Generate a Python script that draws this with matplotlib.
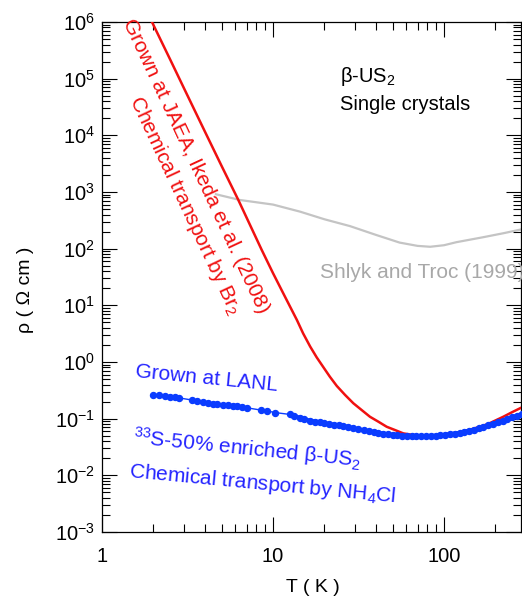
import numpy as np
import matplotlib
matplotlib.use('Agg')
import matplotlib.pyplot as plt
from matplotlib.ticker import LogLocator, NullFormatter, LogFormatterSciNotation, FixedLocator

plt.rcParams['font.family'] = ['Liberation Sans', 'DejaVu Sans']
plt.rcParams['mathtext.fontset'] = 'custom'
plt.rcParams['mathtext.rm'] = 'Liberation Sans'
plt.rcParams['mathtext.it'] = 'Liberation Sans:italic'
plt.rcParams['mathtext.bf'] = 'Liberation Sans:bold'

# ---------------- data ----------------
T_red = [1.96, 2.5, 3.0, 4.0, 5.0, 6.27, 8.59, 10.0, 11.75, 13.8, 15.0, 16.5,
         18.0, 19.7, 21.5, 23.6, 26.4, 29.5, 33.0, 36.9, 41.3, 46.2, 51.7, 57.8,
         70.0, 85.0, 100.0, 125.0, 150.0, 180.0, 222.0, 250.0, 285.0]
rho_red = [1.0e6, 2.2e5, 7.0e4, 1.16e4, 2.9e3, 723, 95, 37, 14.2, 5.5, 3.2, 1.87,
           1.21, 0.81, 0.55, 0.378, 0.262, 0.187, 0.142, 0.108, 0.0885, 0.072,
           0.063, 0.055, 0.050, 0.050, 0.0525, 0.058, 0.067, 0.080, 0.108, 0.130,
           0.158]

T_gray = [4.64, 6.4, 10.0, 14.4, 20.0, 28.2, 40.0, 55.0, 70.0, 83.0, 100.0,
          118.0, 169.0, 222.0, 286.0]
rho_gray = [912, 723, 600, 450, 330, 250, 175, 128, 112, 108, 115, 130, 159,
            187, 220]

T_blue = [2.0, 2.16, 2.34, 2.50, 2.67, 2.83, 3.34, 3.61, 3.91, 4.19, 4.44, 4.72,
          5.08, 5.48, 5.86, 6.18, 6.56, 7.08, 8.47, 9.19, 10.3, 12.5,
          13.3, 14.3, 15.2, 16.5, 17.6, 18.8, 20.0, 21.3, 22.7, 24.2, 25.8, 27.5,
          29.3, 31.2, 34.0, 36.3, 38.7, 41.2, 44.0, 47.0, 50.0, 53.3, 56.9, 60.7,
          64.7, 69.0, 73.6, 78.5, 83.7, 89.3, 95.2, 101.5, 108.3, 115.5, 123.2,
          131.4, 140.1, 149.4, 159.4, 170.0, 181.3, 193.4, 206.3, 220.0, 234.7,
          250.3, 267.0, 284.8]
rho_blue = [0.265, 0.258, 0.251, 0.245, 0.241, 0.232, 0.214, 0.205, 0.197, 0.189,
            0.184, 0.179, 0.175, 0.172, 0.168, 0.165, 0.163, 0.155, 0.142, 0.137,
            0.128, 0.119,
            0.111, 0.104, 0.0975, 0.092, 0.089, 0.086, 0.083, 0.080, 0.078, 0.076,
            0.074, 0.071, 0.068, 0.065, 0.062, 0.060, 0.058, 0.056, 0.0545, 0.053,
            0.0518, 0.0508, 0.0500, 0.0495, 0.0492, 0.0490, 0.0490, 0.0492, 0.0495,
            0.0500, 0.0507, 0.0517, 0.0530, 0.0545, 0.0563, 0.0585, 0.0610, 0.0640,
            0.0675, 0.0715, 0.0760, 0.0810, 0.0860, 0.0920, 0.0985, 0.1055, 0.1130,
            0.1210]

x_ticks = [1, 10, 100]
x_tick_labels = ['1', '10', '100']
y_ticks = [1e-3, 1e-2, 1e-1, 1e0, 1e1, 1e2, 1e3, 1e4, 1e5, 1e6]

# ---------------- figure ----------------
W, H = 522, 598
fig = plt.figure(figsize=(W / 100, H / 100), dpi=100)
L, R, TOP, BOT = 102, 521, 22, 532
ax = fig.add_axes([L / W, 1 - BOT / H, (R - L) / W, (BOT - TOP) / H])
ax.set_xscale('log')
ax.set_yscale('log')
ax.set_xlim(1, 282)
ax.set_ylim(1e-3, 1e6)

RED = '#f01010'
BLUE = '#0a3cff'
BLUE_T = '#2323ff'
GRAY = '#c4c4c4'

ax.plot(T_gray, rho_gray, color=GRAY, lw=1.6, zorder=2)
ax.plot(T_red, rho_red, color=RED, lw=1.8, zorder=3)

T_b = np.array(T_blue)
rho_b = np.array(rho_blue)
dense = T_b >= 13.0
ax.plot(T_b[dense], rho_b[dense], color=BLUE, lw=3.0, solid_capstyle='round',
        zorder=4)
ax.plot(T_b, rho_b, color=BLUE, lw=1.0, marker='o', ms=4.3,
        mec=BLUE, mfc=BLUE, zorder=5)

ax.xaxis.set_major_locator(FixedLocator(x_ticks))
ax.set_xticklabels(x_tick_labels)
ax.xaxis.set_minor_locator(LogLocator(base=10, subs=np.arange(2, 10), numticks=50))
ax.xaxis.set_minor_formatter(NullFormatter())
ax.yaxis.set_major_locator(FixedLocator(y_ticks))
ax.yaxis.set_major_formatter(LogFormatterSciNotation())
ax.yaxis.set_minor_locator(LogLocator(base=10, subs=np.arange(2, 10), numticks=50))
ax.yaxis.set_minor_formatter(NullFormatter())

ax.tick_params(which='both', direction='in', top=True, right=True, width=0.8)
ax.tick_params(which='major', length=10.5, labelsize=14.5)
ax.tick_params(which='minor', length=6)
ax.tick_params(axis='x', which='major', pad=11)
ax.tick_params(axis='y', which='major', pad=5)
for s in ax.spines.values():
    s.set_linewidth(0.9)


def fx(px):
    return px / W


def fy(py):
    return 1 - py / H


fig.text(fx(313), fy(587), 'T ( K )', ha='center', va='center', fontsize=14)
fig.text(fx(25), fy(290), 'ρ ( Ω cm )', rotation=90, ha='center', va='center',
         fontsize=14)

fig.text(fx(195.8), fy(165.8), 'Grown at JAEA, Ikeda et al. (2008)', rotation=-65,
         rotation_mode='anchor', ha='center', va='center', color=RED, fontsize=15)
fig.text(fx(184.5), fy(205.5), 'Chemical transport by Br$_2$', rotation=-65,
         rotation_mode='anchor', ha='center', va='center', color=RED, fontsize=15)

fig.text(fx(135), fy(376.7), 'Grown at LANL', rotation=-5.6, rotation_mode='anchor',
         ha='left', va='baseline', color=BLUE_T, fontsize=15)
fig.text(fx(133), fy(443.5), '$^{33}$S-50% enriched β-US$_2$', rotation=-5.8,
         rotation_mode='anchor', ha='left', va='baseline', color=BLUE_T, fontsize=15)
fig.text(fx(129), fy(476.7), 'Chemical transport by NH$_4$Cl', rotation=-5.4,
         rotation_mode='anchor', ha='left', va='baseline', color=BLUE_T, fontsize=15)

fig.text(fx(340), fy(82), 'β-US$_2$', ha='left', va='baseline', fontsize=14.5)
fig.text(fx(340), fy(110), 'Single crystals', ha='left', va='baseline', fontsize=14.5)

fig.text(fx(320), fy(278), 'Shlyk and Troc (1999)', ha='left', va='baseline',
         color='#a8a8a8', fontsize=15)

fig.savefig('out.png', dpi=100)
